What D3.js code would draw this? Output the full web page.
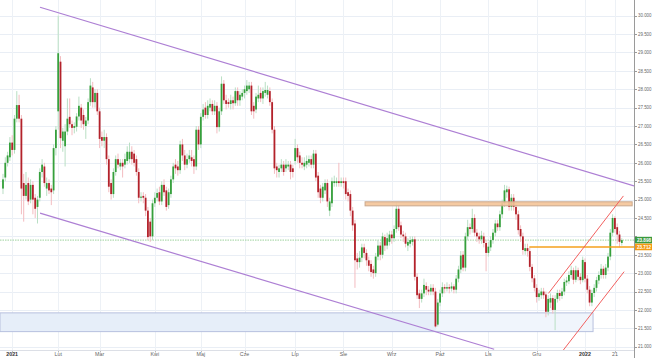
<!DOCTYPE html>
<html><head><meta charset="utf-8">
<script src="https://cdn.jsdelivr.net/npm/d3@7"></script>
<style>html,body{margin:0;padding:0;background:#fff;overflow:hidden}svg{display:block}</style>
</head><body><svg id="c" width="653" height="358"></svg>
<script>
const open = [
25.30,25.60,26.00,26.15,26.55,26.35,27.20,27.57,27.20,25.45,
25.10,25.45,25.00,25.40,25.05,24.80,25.05,25.75,25.90,25.30,
25.45,25.30,25.25,26.40,27.40,28.75,26.60,26.45,26.85,27.25,
27.05,26.95,26.98,27.26,27.50,27.30,27.00,27.15,27.65,28.05,
27.65,27.90,27.40,26.70,26.60,26.70,26.10,25.45,25.15,25.75,
26.10,25.90,26.00,25.95,26.05,26.10,26.30,26.25,26.10,25.75,
25.05,25.10,25.05,24.70,24.40,24.00,24.90,25.05,25.20,24.95,
25.40,25.25,24.85,25.15,25.55,25.95,25.90,25.80,26.50,26.20,
25.95,26.10,26.15,26.10,25.90,26.90,26.50,27.25,27.50,27.30,
27.50,27.60,27.40,27.55,26.97,27.40,28.15,27.70,27.65,27.60,
27.70,27.62,27.95,27.70,27.80,27.90,27.95,28.00,28.10,27.55,
27.45,27.75,27.90,27.75,27.90,27.85,27.95,27.65,26.90,25.90,
25.75,25.85,25.95,25.85,25.90,25.95,25.85,26.05,26.40,26.20,
26.00,25.90,25.95,26.00,26.10,25.95,26.25,25.65,25.30,25.05,
25.25,25.45,24.70,24.90,25.45,25.45,25.50,25.45,25.50,25.50,
25.20,25.15,24.70,24.35,23.40,23.30,23.42,23.70,23.55,23.35,
23.25,23.10,23.00,23.45,23.75,23.50,23.98,23.75,23.85,24.05,
23.95,24.20,24.75,24.30,24.05,24.00,23.75,23.80,23.85,23.92,
22.90,22.45,22.30,22.45,22.65,22.55,22.50,22.60,22.50,21.60,
22.20,22.45,22.62,22.58,22.62,22.58,22.64,22.55,22.85,23.10,
23.50,23.15,24.00,24.25,24.20,24.50,24.10,24.00,23.92,24.00,
23.82,23.55,23.70,23.90,24.10,24.35,24.25,24.60,24.90,25.20,
25.28,24.80,25.05,24.80,24.60,24.20,24.00,23.60,23.68,23.60,
23.17,22.86,22.60,22.35,22.40,22.50,22.42,21.95,22.20,22.32,
22.00,22.30,22.46,22.38,22.50,22.75,22.78,22.95,23.08,22.82,
23.08,22.90,22.81,23.30,22.85,22.55,22.20,22.46,22.60,22.80,
22.95,23.12,22.95,23.15,23.45,24.10,24.50,24.25,24.05,23.82];
const close = [
25.55,26.00,26.20,26.55,26.35,27.20,27.57,27.20,25.30,25.10,
25.40,24.95,25.40,25.00,24.75,25.00,25.75,25.95,25.45,25.45,
25.25,25.20,26.40,26.90,28.98,26.67,26.85,26.85,27.20,27.05,
26.95,27.00,27.26,27.55,27.15,27.05,27.15,27.65,28.10,27.65,
27.90,27.40,26.65,26.60,26.70,26.10,25.35,25.15,25.75,26.10,
25.95,26.00,25.90,26.10,26.30,26.30,26.10,26.00,25.75,25.05,
25.08,25.05,24.70,23.98,24.00,24.90,25.05,25.18,24.95,25.40,
25.20,24.80,25.20,25.55,25.90,25.85,25.80,26.50,26.20,25.95,
26.10,26.20,26.05,25.90,26.90,26.50,27.25,27.45,27.30,27.55,
27.60,27.40,27.55,26.97,27.40,28.15,27.70,27.60,27.60,27.70,
27.62,27.95,27.70,27.85,27.90,28.00,28.10,28.10,27.40,27.40,
27.80,27.85,27.75,27.95,27.98,27.98,27.65,26.90,25.85,25.80,
25.85,25.95,25.75,25.95,25.95,25.75,25.75,26.40,26.15,26.00,
25.95,26.00,26.05,26.10,25.95,26.25,25.60,25.20,25.05,25.35,
25.45,24.95,24.95,25.50,25.50,25.50,25.45,25.50,25.45,25.15,
25.10,24.70,24.30,23.35,23.30,23.42,23.70,23.55,23.35,23.20,
23.03,23.00,23.45,23.75,23.50,24.00,23.75,23.95,24.05,23.95,
24.20,24.75,24.25,24.05,24.00,23.80,23.85,23.90,23.92,22.90,
22.40,22.30,22.45,22.68,22.55,22.50,22.60,22.50,21.55,22.20,
22.45,22.62,22.58,22.62,22.58,22.64,22.55,22.85,23.10,23.48,
23.15,24.00,24.25,24.20,24.50,24.10,24.00,23.92,24.02,23.82,
23.55,23.72,23.90,24.10,24.35,24.25,24.60,24.90,25.25,25.28,
24.80,25.05,24.80,24.60,24.17,24.00,23.63,23.68,23.60,23.17,
22.86,22.60,22.35,22.45,22.50,22.40,21.95,22.30,22.32,22.00,
22.30,22.46,22.38,22.50,22.76,22.80,22.95,23.08,22.82,23.08,
22.90,22.81,23.36,22.85,22.55,22.20,22.46,22.60,22.81,22.95,
23.12,22.95,23.15,23.45,24.10,24.50,24.20,24.05,23.85,23.898];
const high = [
25.70,26.15,26.30,26.70,26.75,27.30,27.95,27.85,27.30,25.70,
25.75,25.60,25.55,25.50,25.15,25.10,25.85,26.10,26.00,25.60,
25.55,25.40,26.50,27.00,30.00,28.90,26.95,27.05,27.75,27.75,
27.15,27.10,27.35,27.80,27.60,27.45,27.25,27.75,28.30,28.20,
28.00,28.00,27.50,26.85,26.90,26.80,26.20,25.55,25.85,26.20,
26.25,26.10,26.10,26.25,26.45,26.55,26.45,26.35,26.20,25.85,
25.20,25.20,25.15,24.80,24.50,25.00,25.20,25.30,25.35,25.50,
25.55,25.35,25.30,25.65,26.00,26.10,26.05,26.60,26.65,26.35,
26.25,26.35,26.35,26.20,27.00,27.00,27.35,27.60,27.65,27.70,
27.75,27.70,27.70,27.65,27.50,28.35,28.25,27.85,27.75,27.85,
27.80,28.05,28.05,27.95,28.00,28.10,28.25,28.20,28.20,27.65,
27.90,28.10,28.05,28.05,28.20,28.10,28.05,27.75,27.00,26.00,
25.95,26.10,26.05,26.10,26.05,26.05,25.95,26.65,26.50,26.30,
26.15,26.15,26.20,26.20,26.20,26.35,26.35,25.75,25.40,25.45,
25.55,25.55,25.05,25.60,25.65,25.60,26.00,25.60,25.60,25.60,
25.30,25.25,24.80,24.45,23.55,23.60,23.80,23.80,23.65,23.45,
23.35,23.20,23.55,23.90,23.85,24.10,24.05,24.10,24.15,24.15,
24.30,24.92,24.85,24.40,24.15,24.10,23.95,24.00,24.00,24.00,
23.00,22.55,22.55,22.85,22.75,22.65,22.70,22.70,22.60,22.30,
22.55,22.75,22.70,22.75,22.70,22.75,22.70,22.95,23.20,23.60,
23.60,24.10,24.45,24.35,24.75,24.60,24.20,24.10,24.15,24.10,
23.90,23.85,24.00,24.20,24.45,24.45,24.70,25.00,25.40,25.38,
25.35,25.15,25.15,24.90,24.70,24.30,24.10,23.80,23.80,23.70,
23.25,22.95,22.70,22.55,22.60,22.60,22.50,22.40,22.45,22.40,
22.40,22.55,22.55,22.60,22.85,22.90,23.05,23.20,23.15,23.20,
23.15,23.00,23.45,23.40,22.95,22.65,22.55,22.70,22.90,23.05,
23.25,23.20,23.25,23.55,24.20,24.60,24.55,24.35,24.15,23.95];
const low = [
25.15,25.50,25.90,26.05,26.20,26.25,27.10,27.10,24.60,24.40,
25.00,24.85,24.90,24.60,24.50,24.35,24.95,25.60,25.35,25.10,
25.15,24.85,25.15,26.20,26.90,26.40,26.30,25.90,26.75,26.95,
26.75,26.80,26.85,27.15,26.95,26.90,26.65,27.05,27.55,27.50,
27.50,27.30,26.40,26.45,26.40,25.95,25.20,25.00,25.05,25.65,
25.85,25.80,25.60,25.85,25.95,26.00,25.95,25.90,25.65,24.90,
24.95,24.90,24.55,23.90,23.85,23.90,24.80,24.95,24.85,24.85,
25.10,24.70,24.75,25.05,25.45,25.70,25.65,25.70,26.05,25.80,
25.85,26.00,25.90,25.70,25.80,26.35,26.40,27.15,27.20,27.20,
27.40,27.30,27.30,26.80,26.85,27.30,27.60,27.45,27.50,27.45,
27.45,27.55,27.55,27.55,27.70,27.75,27.85,27.90,27.30,27.20,
27.35,27.65,27.65,27.60,27.80,27.75,27.55,26.80,25.70,25.60,
25.60,25.75,25.65,25.75,25.80,25.55,25.60,25.95,26.00,25.85,
25.85,25.80,25.85,25.90,25.85,25.85,25.50,25.05,24.90,24.95,
25.15,24.80,24.55,24.80,25.35,25.35,25.35,25.35,25.30,25.00,
24.95,24.55,24.15,22.60,23.10,23.15,23.30,23.40,23.20,23.05,
22.90,22.85,22.90,23.35,23.35,23.40,23.60,23.65,23.75,23.80,
23.85,24.10,24.15,23.95,23.85,23.70,23.60,23.70,23.75,22.80,
22.30,22.05,22.20,22.35,22.40,22.40,22.40,22.40,21.52,21.55,
22.10,22.35,22.45,22.50,22.45,22.50,22.45,22.45,22.75,23.00,
23.05,23.05,23.90,24.05,24.10,24.00,23.85,23.80,23.80,23.70,
23.05,23.45,23.60,23.80,24.00,24.15,24.15,24.50,24.80,25.05,
24.70,24.70,24.70,24.45,24.05,23.85,23.50,23.50,23.45,23.05,
22.75,22.50,22.20,22.25,22.30,22.30,21.80,21.85,22.05,21.90,
21.45,22.20,22.25,22.30,22.40,22.65,22.70,22.85,22.70,22.75,
22.80,22.70,22.75,22.75,22.45,22.10,22.10,22.35,22.50,22.70,
22.85,22.85,22.85,23.05,23.35,24.00,24.10,23.80,23.70,23.75];

const monthLabels = ["2021","Lut","Mar","Kwi","Maj","Cze","Lip","Sie","Wrz","Paź","Lis","Gru","2022","21"];
const monthIdx    = [4, 24, 42, 66, 86, 105, 127, 148, 169, 190, 211, 232, 253, 266];
const yearLabels  = ["2021","2022"];
const priceTicks  = d3.range(21, 30.0001, 0.5);
const lastPrice = 23.898;
const levelPrice = 23.712;
const levelStartIdx = 228.8;
// drawing objects: [index, price]
const channelUpper = [[16.1, 30.23], [274.3, 25.37]];
const channelLower = [[16.1, 24.63], [213.5, 20.93]];
const redUpper = [[237.1, 22.45], [269.7, 25.10]];
const redLower = [[243.6, 20.91], [270.0, 23.04]];
const resistZone = {i0: 157.4, i1: 273.5, p0: 24.83, p1: 24.94};
const supportZone = {i0: -1.3, iMid: 188.5, i1: 256.5, p0: 21.41, p1: 21.92};

const W = 653, H = 358, plotR = 634, plotB = 350;
const svg = d3.select("#c");
const x = d3.scaleLinear().domain([-1.3, 274.3]).range([0, plotR]);
const y = d3.scaleLinear().domain([21, 30]).range([346.7, 15.7]);
const font = "'Liberation Sans', Arial, sans-serif";
const fmt = d3.format(".3f");

svg.append("rect").attr("width", W).attr("height", H).attr("fill", "#fff");
svg.append("defs").append("clipPath").attr("id", "clip")
  .append("rect").attr("x", 0).attr("y", 0).attr("width", plotR).attr("height", plotB);

const g = svg.append("g").attr("clip-path", "url(#clip)");

// grid
g.selectAll(".hg").data(priceTicks).join("line")
  .attr("x1", 0).attr("x2", plotR).attr("y1", d => Math.round(y(d)) + 0.5).attr("y2", d => Math.round(y(d)) + 0.5)
  .attr("stroke", "#e9eef5").attr("stroke-width", 1);
g.selectAll(".vg").data(monthIdx).join("line")
  .attr("x1", d => Math.round(x(d)) + 0.5).attr("x2", d => Math.round(x(d)) + 0.5)
  .attr("y1", 0).attr("y2", plotB)
  .attr("stroke", "#edf1f6").attr("stroke-width", 1);

// support zone
g.append("rect")
  .attr("x", x(supportZone.i0)).attr("y", y(supportZone.p1))
  .attr("width", x(supportZone.iMid) - x(supportZone.i0)).attr("height", y(supportZone.p0) - y(supportZone.p1))
  .attr("fill", "#e6eef9");
g.append("rect")
  .attr("x", x(supportZone.iMid)).attr("y", y(supportZone.p1))
  .attr("width", x(supportZone.i1) - x(supportZone.iMid)).attr("height", y(supportZone.p0) - y(supportZone.p1))
  .attr("fill", "#f0f5fc");
g.append("rect")
  .attr("x", x(supportZone.i0)).attr("y", y(supportZone.p1))
  .attr("width", x(supportZone.i1) - x(supportZone.i0)).attr("height", y(supportZone.p0) - y(supportZone.p1))
  .attr("fill", "none").attr("stroke", "#b7c0de").attr("stroke-width", 1);

// last-price dotted line
g.append("line").attr("x1", 0).attr("x2", plotR).attr("y1", y(lastPrice)).attr("y2", y(lastPrice))
  .attr("stroke", "#9fd39f").attr("stroke-width", 1.2).attr("stroke-dasharray", "1.5,1").attr("opacity", 0.8);

// candles
const idx = d3.range(close.length);
const bw = 1.8;
g.selectAll(".wick").data(idx).join("line")
  .attr("x1", i => x(i)).attr("x2", i => x(i))
  .attr("y1", i => y(high[i])).attr("y2", i => y(low[i]))
  .attr("stroke", i => close[i] >= open[i] ? "#b9dfc4" : "#f3bcc0").attr("stroke-width", 1);
g.selectAll(".body").data(idx).join("rect")
  .attr("x", i => x(i) - bw / 2)
  .attr("y", i => y(Math.max(open[i], close[i])))
  .attr("width", bw)
  .attr("height", i => Math.max(1, Math.abs(y(open[i]) - y(close[i]))))
  .attr("fill", i => close[i] >= open[i] ? "#36a03c" : "#b3222b");

// resistance zone
g.append("rect")
  .attr("x", x(resistZone.i0)).attr("y", y(resistZone.p1))
  .attr("width", x(resistZone.i1) - x(resistZone.i0)).attr("height", y(resistZone.p0) - y(resistZone.p1))
  .attr("fill", "#f4c498").attr("fill-opacity", 0.9).attr("stroke", "#c9a88e").attr("stroke-width", 1);

// level line
g.append("line").attr("x1", x(levelStartIdx)).attr("x2", plotR).attr("y1", y(levelPrice)).attr("y2", y(levelPrice))
  .attr("stroke", "#f5a01c").attr("stroke-width", 1.6);

// trend lines
const line = d3.line().x(d => x(d[0])).y(d => y(d[1]));
[channelUpper, channelLower].forEach(d => g.append("path").attr("d", line(d))
  .attr("fill", "none").attr("stroke", "#ad7fd4").attr("stroke-width", 1.2));
[redUpper, redLower].forEach(d => g.append("path").attr("d", line(d))
  .attr("fill", "none").attr("stroke", "#f2605f").attr("stroke-width", 1));

// bottom line
svg.append("line").attr("x1", 0).attr("x2", plotR).attr("y1", plotB + 0.5).attr("y2", plotB + 0.5)
  .attr("stroke", "#dcdfe6");

// right axis
svg.append("line").attr("x1", plotR + 0.5).attr("x2", plotR + 0.5).attr("y1", 0).attr("y2", H)
  .attr("stroke", "#9a9a9a").attr("stroke-width", 1);
svg.selectAll(".yt").data(priceTicks).join("line")
  .attr("x1", plotR + 1).attr("x2", plotR + 3)
  .attr("y1", d => Math.round(y(d)) + 0.5).attr("y2", d => Math.round(y(d)) + 0.5)
  .attr("stroke", "#9a9a9a");
// tick labels hidden under the price tags are not shown (as in the reference)
const visibleTicks = priceTicks.filter(d => Math.abs(y(d) - y(lastPrice)) > 6 && Math.abs(y(d) - y(levelPrice)) > 6);
svg.selectAll(".yl").data(visibleTicks).join("text")
  .attr("x", plotR + 4).attr("y", d => y(d)).attr("dy", "0.35em")
  .attr("font-family", font).attr("font-size", 5).attr("fill", "#666")
  .attr("textLength", 13.5).attr("lengthAdjust", "spacingAndGlyphs")
  .text(d => fmt(d));

// price tags
function tag(p, col) {
  svg.append("rect").attr("x", plotR + 1).attr("y", y(p) - 3.3).attr("width", W - plotR - 2).attr("height", 6.6)
    .attr("fill", col);
  svg.append("text").attr("x", plotR + 3).attr("y", y(p)).attr("dy", "0.35em")
    .attr("font-family", font).attr("font-size", 5).attr("font-weight", "bold").attr("fill", "#fff")
    .attr("textLength", 14).attr("lengthAdjust", "spacingAndGlyphs")
    .text(fmt(p));
}
tag(lastPrice, "#3a9a3f");
tag(levelPrice, "#f39a12");

// x labels
svg.selectAll(".xt").data(monthIdx).join("line")
  .attr("x1", d => Math.round(x(d)) + 0.5).attr("x2", d => Math.round(x(d)) + 0.5)
  .attr("y1", plotB + 1).attr("y2", plotB + 2.5).attr("stroke", "#bbb");
svg.selectAll(".xl").data(monthIdx).join("text")
  .attr("x", d => x(d)).attr("y", 355.5).attr("text-anchor", "middle")
  .attr("font-family", font).attr("font-size", 5.3)
  .attr("font-weight", (d, i) => yearLabels.includes(monthLabels[i]) ? "bold" : "normal")
  .attr("fill", (d, i) => yearLabels.includes(monthLabels[i]) ? "#333" : "#666")
  .text((d, i) => monthLabels[i]);
</script>
</body></html>
